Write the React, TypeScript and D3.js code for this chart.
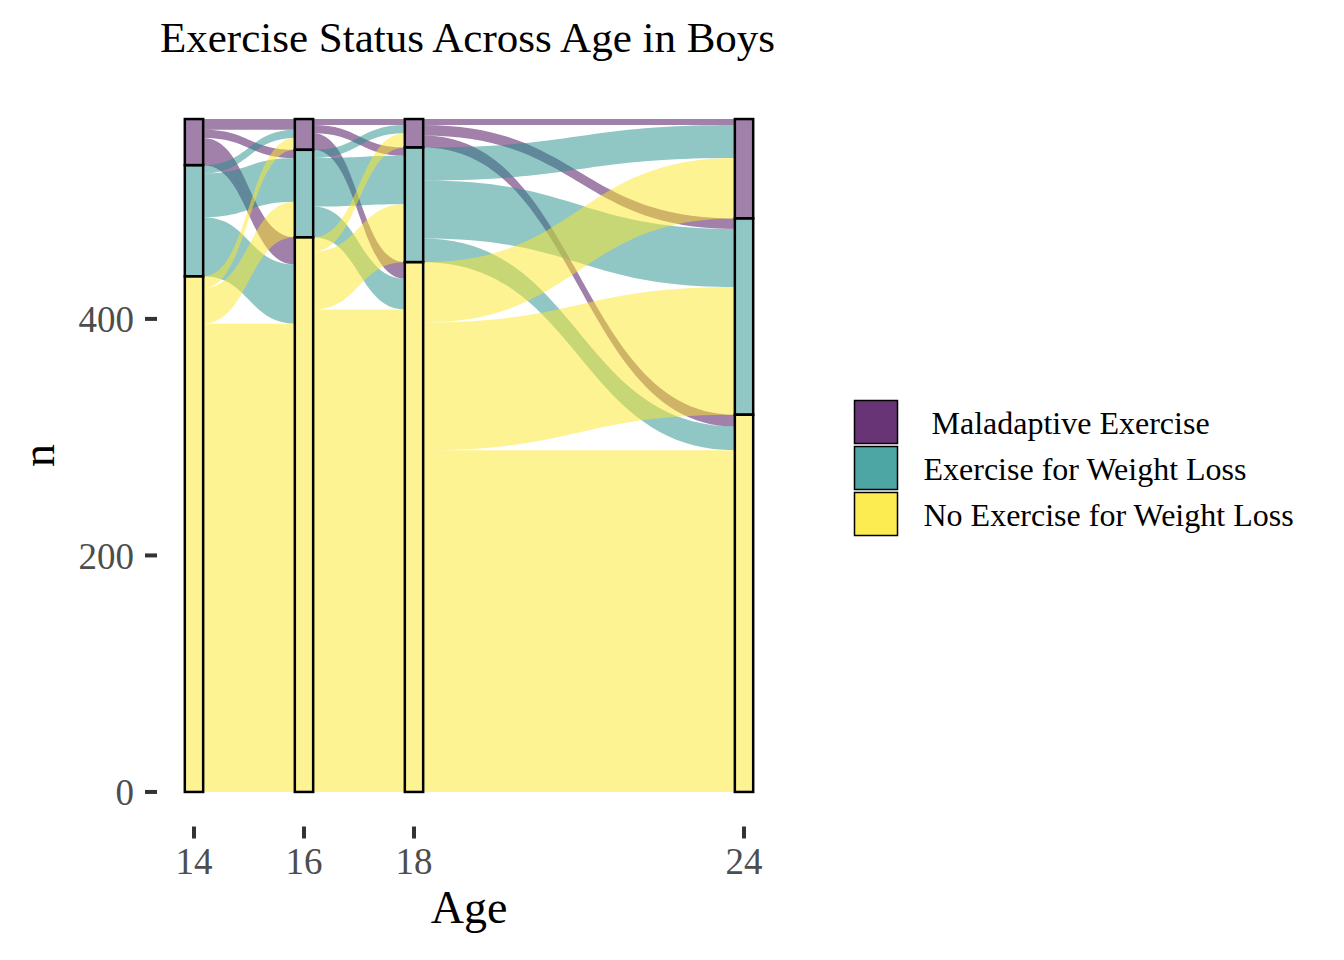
import * as React from 'react';
import * as d3 from 'd3';

const ages = [14, 16, 18, 24];
const statuses = [' Maladaptive Exercise', 'Exercise for Weight Loss', 'No Exercise for Weight Loss'];
const colors = ['#440154', '#21908C', '#FDE725'];

// transition counts between consecutive ages, rows = status at earlier age, cols = status at later age
const flows14to16 = [[9, 7, 23], [7, 37, 50], [10, 30, 396]];
const flows16to18 = [[5, 7, 14], [7, 41, 26], [12, 49, 408]];
const flows18to24 = [[5, 9, 10], [28, 49, 20], [51, 108, 289]];
const transitions = [flows14to16, flows16to18, flows18to24];

const yTicks = [0, 200, 400];

const width = 1344;
const height = 960;
const font = '"Liberation Serif", "Times New Roman", serif';

const rowSums = (m: number[][]) => m.map(r => d3.sum(r));
const colSums = (m: number[][]) => m[0].map((_, j) => d3.sum(m, r => r[j]));

export default function App() {
    // stratum sizes at each age
    const strata: number[][] = [rowSums(flows14to16), ...transitions.map(colSums)];
    const total = d3.sum(strata[0]);
    const stratumWidth = 1 / 3;

    const xMin = ages[0] - stratumWidth / 2;
    const xMax = ages[ages.length - 1] + stratumWidth / 2;
    const xPad = (xMax - xMin) * 0.05;
    const x = d3.scaleLinear().domain([xMin - xPad, xMax + xPad]).range([156.4, 781.6]);
    const yPad = total * 0.05;
    const y = d3.scaleLinear().domain([-yPad, total + yPad]).range([825.6, 85.4]);

    const hw = (x(ages[0] + stratumWidth / 2) - x(ages[0] - stratumWidth / 2)) / 2;

    // stack strata from the top: status 0 on top
    const stratumTop = strata.map(s => s.map((_, i) => total - d3.sum(s.slice(0, i))));

    const flowPaths: { d: string; color: string }[] = [];
    transitions.forEach((m, a) => {
        const xa = x(ages[a]) + hw;
        const xb = x(ages[a + 1]) - hw;
        const xm = (xa + xb) / 2;
        const leftOffset = [0, 0, 0];
        for (let s = 0; s < 3; s++) {
            for (let t = 0; t < 3; t++) {
                const v = m[s][t];
                if (v <= 0) continue;
                const l0 = stratumTop[a][s] - leftOffset[s];
                const l1 = l0 - v;
                leftOffset[s] += v;
                // right side: within destination stratum ordered by origin
                let r0 = stratumTop[a + 1][t];
                for (let k = 0; k < s; k++) r0 -= m[k][t];
                const r1 = r0 - v;
                const d = `M${xa},${y(l0)}C${xm},${y(l0)} ${xm},${y(r0)} ${xb},${y(r0)}` +
                    `L${xb},${y(r1)}C${xm},${y(r1)} ${xm},${y(l1)} ${xa},${y(l1)}Z`;
                flowPaths.push({ d, color: colors[s] });
            }
        }
    });

    return (
        <svg width={width} height={height} style={{ display: 'block', position: 'absolute', left: 0, top: 0 }}
             fontFamily={font}>
            <rect width={width} height={height} fill="#fff" />
            <text x={160} y={52} fontSize={43} fill="#000">Exercise Status Across Age in Boys</text>

            {flowPaths.map((f, i) => (
                <path key={i} d={f.d} fill={f.color} fillOpacity={0.5} stroke="none" />
            ))}

            {strata.map((s, a) => s.map((v, i) => (
                <rect key={`${a}-${i}`} x={x(ages[a]) - hw} y={y(stratumTop[a][i])}
                      width={hw * 2} height={y(stratumTop[a][i] - v) - y(stratumTop[a][i])}
                      fill={colors[i]} fillOpacity={0.5} stroke="#000" strokeWidth={2.5} />
            )))}

            {yTicks.map(t => (
                <g key={t}>
                    <line x1={145} x2={157} y1={y(t)} y2={y(t)} stroke="#333" strokeWidth={4} />
                    <text x={134} y={y(t)} dy="0.36em" textAnchor="end" fontSize={37} fill="#4D4D4D">{t}</text>
                </g>
            ))}
            {ages.map(a => (
                <g key={a}>
                    <line x1={x(a)} x2={x(a)} y1={826.5} y2={838.5} stroke="#333" strokeWidth={4} />
                    <text x={x(a)} y={874} textAnchor="middle" fontSize={37} fill="#4D4D4D">{a}</text>
                </g>
            ))}

            <text x={469} y={923} textAnchor="middle" fontSize={46} fill="#000">Age</text>
            <text transform={`translate(54,${(y(-yPad) + y(total + yPad)) / 2}) rotate(-90)`} textAnchor="middle"
                  fontSize={46} fill="#000">n</text>

            {statuses.map((s, i) => (
                <g key={s} transform={`translate(854.5,${400.5 + i * 46})`}>
                    <rect width={43} height={43} fill={colors[i]} fillOpacity={0.8} stroke="#000" strokeWidth={1.5} />
                    <text x={69} y={33} fontSize={32} fill="#000" style={{ whiteSpace: 'pre' }}>{s}</text>
                </g>
            ))}
        </svg>
    );
}
